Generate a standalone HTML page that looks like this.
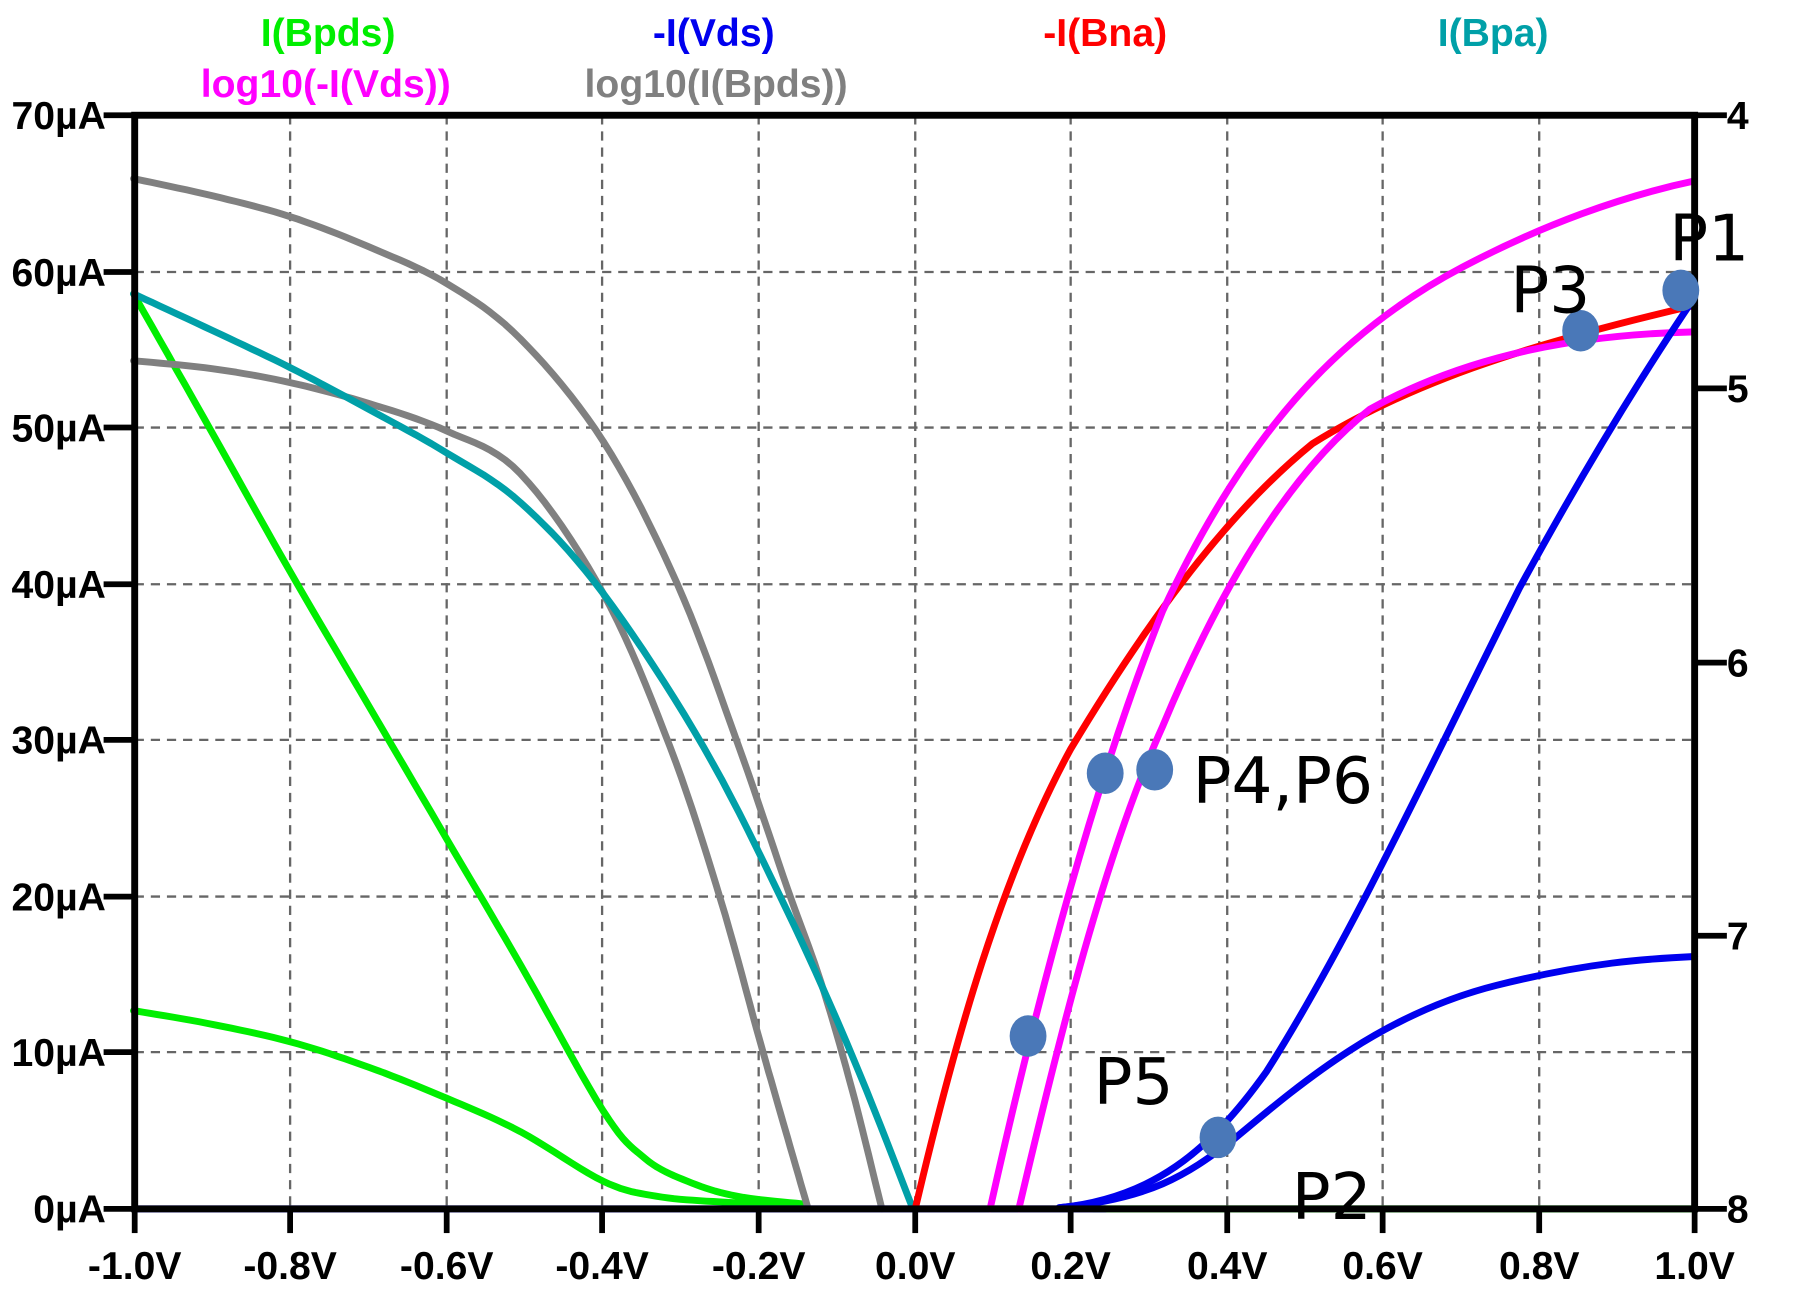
<!DOCTYPE html>
<html><head><meta charset="utf-8"><style>html,body{margin:0;padding:0;background:#fff}svg{display:block}</style></head>
<body>
<svg width="1804" height="1293" viewBox="0 0 1567 1122" preserveAspectRatio="none" xmlns="http://www.w3.org/2000/svg">
<rect width="1567" height="1122" fill="#fff"/>
<g stroke="#666" stroke-width="2" stroke-dasharray="8,6">
<line x1="252" y1="100" x2="252" y2="1049"/><line x1="388" y1="100" x2="388" y2="1049"/><line x1="523" y1="100" x2="523" y2="1049"/><line x1="659" y1="100" x2="659" y2="1049"/><line x1="795" y1="100" x2="795" y2="1049"/><line x1="930" y1="100" x2="930" y2="1049"/><line x1="1066" y1="100" x2="1066" y2="1049"/><line x1="1201" y1="100" x2="1201" y2="1049"/><line x1="1337" y1="100" x2="1337" y2="1049"/>
<line x1="117" y1="236" x2="1472" y2="236"/><line x1="117" y1="371" x2="1472" y2="371"/><line x1="117" y1="507" x2="1472" y2="507"/><line x1="117" y1="642" x2="1472" y2="642"/><line x1="117" y1="778" x2="1472" y2="778"/><line x1="117" y1="913" x2="1472" y2="913"/>
</g>
<g fill="none" stroke-width="6" stroke-linejoin="round" stroke-linecap="round">
<path stroke="#00ee00" d="M950,1049 L1472,1049"/>
<polyline class="sm" stroke="#00ee00" points="116,255 184,375 252,496 320,612 388,728 452,837 524,964 560,1005 597,1025 640,1038 700,1045"/>
<polyline class="sm" stroke="#00ee00" points="116,877 180,888 252,904 320,926 388,953 452,982 524,1025 570,1038 626,1043 700,1046"/>
<polyline class="sm" stroke="#808080" points="116,155 185,170 252,188 320,214 388,246 452,294 524,383 588,506 640,643 684,771 713,852 740,945 766,1049"/>
<polyline class="sm" stroke="#808080" points="116,313 185,320 252,332 320,350 388,374 452,411 524,515 582,648 626,781 660,903 682,980 702,1049"/>
<polyline class="sm" stroke="#00a0a8" points="116,255 185,287 252,319 320,355 388,393 452,436 524,515 611,648 684,791 741,918 793,1049"/>
<path stroke="#0000ee" d="M117,1049 L960,1049"/>
<path stroke="#ff0000" d="M795,1049 C830,900 870,760 930,650 C990,550 1060,450 1140,385 C1220,335 1320,300 1472,265"/>
<path stroke="#ff00ff" d="M860,1049 C900,870 950,680 1010,530 C1080,380 1160,290 1270,232 C1340,195 1410,170 1472,157"/>
<path stroke="#ff00ff" d="M885,1049 C920,900 960,740 1010,630 C1060,510 1120,410 1190,355 C1280,305 1380,290 1472,288"/>
<path stroke="#0000ee" d="M920,1048 C1000,1040 1030,1020 1070,990 C1130,940 1200,880 1300,855 C1380,835 1430,832 1472,830"/>
<path stroke="#0000ee" d="M920,1048 C1000,1040 1050,1000 1100,930 C1170,820 1240,670 1320,510 C1380,400 1430,320 1472,258"/>
</g>
<g stroke="#000" stroke-width="6" fill="none">
<rect x="117" y="100" width="1355" height="949"/>
</g>
<g stroke="#000" stroke-width="5">
<line x1="90" y1="100" x2="117" y2="100"/><line x1="90" y1="236" x2="117" y2="236"/><line x1="90" y1="371" x2="117" y2="371"/><line x1="90" y1="507" x2="117" y2="507"/><line x1="90" y1="642" x2="117" y2="642"/><line x1="90" y1="778" x2="117" y2="778"/><line x1="90" y1="913" x2="117" y2="913"/><line x1="90" y1="1049" x2="117" y2="1049"/>
<line x1="1472" y1="100" x2="1500" y2="100"/><line x1="1472" y1="337" x2="1500" y2="337"/><line x1="1472" y1="575" x2="1500" y2="575"/><line x1="1472" y1="812" x2="1500" y2="812"/><line x1="1472" y1="1049" x2="1500" y2="1049"/>
<line x1="117" y1="1049" x2="117" y2="1070"/><line x1="252" y1="1049" x2="252" y2="1070"/><line x1="388" y1="1049" x2="388" y2="1070"/><line x1="523" y1="1049" x2="523" y2="1070"/><line x1="659" y1="1049" x2="659" y2="1070"/><line x1="795" y1="1049" x2="795" y2="1070"/><line x1="930" y1="1049" x2="930" y2="1070"/><line x1="1066" y1="1049" x2="1066" y2="1070"/><line x1="1201" y1="1049" x2="1201" y2="1070"/><line x1="1337" y1="1049" x2="1337" y2="1070"/><line x1="1472" y1="1049" x2="1472" y2="1070"/>
</g>
<g font-family="Liberation Sans, sans-serif" font-weight="bold" font-size="34" fill="#000">
<g text-anchor="end">
<text x="92" y="112">70µA</text><text x="92" y="248">60µA</text><text x="92" y="383">50µA</text><text x="92" y="519">40µA</text><text x="92" y="654">30µA</text><text x="92" y="790">20µA</text><text x="92" y="925">10µA</text><text x="92" y="1061">0µA</text>
</g>
<text x="1500" y="112">4</text><text x="1500" y="349">5</text><text x="1500" y="587">6</text><text x="1500" y="824">7</text><text x="1500" y="1061">8</text>
<g text-anchor="middle">
<text x="117" y="1110">-1.0V</text><text x="252" y="1110">-0.8V</text><text x="388" y="1110">-0.6V</text><text x="523" y="1110">-0.4V</text><text x="659" y="1110">-0.2V</text><text x="795" y="1110">0.0V</text><text x="930" y="1110">0.2V</text><text x="1066" y="1110">0.4V</text><text x="1201" y="1110">0.6V</text><text x="1337" y="1110">0.8V</text><text x="1472" y="1110">1.0V</text>
<text x="285" y="40" fill="#00ee00">I(Bpds)</text><text x="620" y="40" fill="#0000ee">-I(Vds)</text><text x="960" y="40" fill="#ff0000">-I(Bna)</text><text x="1297" y="40" fill="#00a0a8">I(Bpa)</text>
<text x="283" y="84" fill="#ff00ff">log10(-I(Vds))</text><text x="622" y="84" fill="#808080">log10(I(Bpds))</text>
</g>
</g>
<g fill="#4a78b8">
<ellipse cx="1460" cy="252" rx="16" ry="18"/><ellipse cx="1373" cy="287" rx="16" ry="18"/><ellipse cx="960" cy="671" rx="16" ry="18"/><ellipse cx="1003" cy="668" rx="16" ry="18"/><ellipse cx="893" cy="899" rx="16" ry="18"/><ellipse cx="1058" cy="987" rx="16" ry="18"/>
</g>
<g font-family="DejaVu Sans, sans-serif" font-size="56" fill="#000">
<text x="1450" y="226">P1</text><text x="1312" y="271">P3</text><text x="1036" y="697">P4,P6</text><text x="950" y="958">P5</text><text x="1122" y="1058">P2</text>
</g>
</svg>
<script>
document.querySelectorAll('polyline.sm').forEach(function(pl){
  var p=pl.getAttribute('points').trim().split(/\s+/).map(function(s){return s.split(',').map(Number);});
  var out=[];
  for(var i=0;i<p.length-1;i++){
    var p0=p[Math.max(i-1,0)],p1=p[i],p2=p[i+1],p3=p[Math.min(i+2,p.length-1)];
    for(var k=0;k<10;k++){
      var t=k/10,t2=t*t,t3=t2*t;
      var x=0.5*((2*p1[0])+(-p0[0]+p2[0])*t+(2*p0[0]-5*p1[0]+4*p2[0]-p3[0])*t2+(-p0[0]+3*p1[0]-3*p2[0]+p3[0])*t3);
      var y=0.5*((2*p1[1])+(-p0[1]+p2[1])*t+(2*p0[1]-5*p1[1]+4*p2[1]-p3[1])*t2+(-p0[1]+3*p1[1]-3*p2[1]+p3[1])*t3);
      out.push(x.toFixed(1)+','+y.toFixed(1));
    }
  }
  out.push(p[p.length-1].join(','));
  pl.setAttribute('points',out.join(' '));
});
</script>
</body></html>
